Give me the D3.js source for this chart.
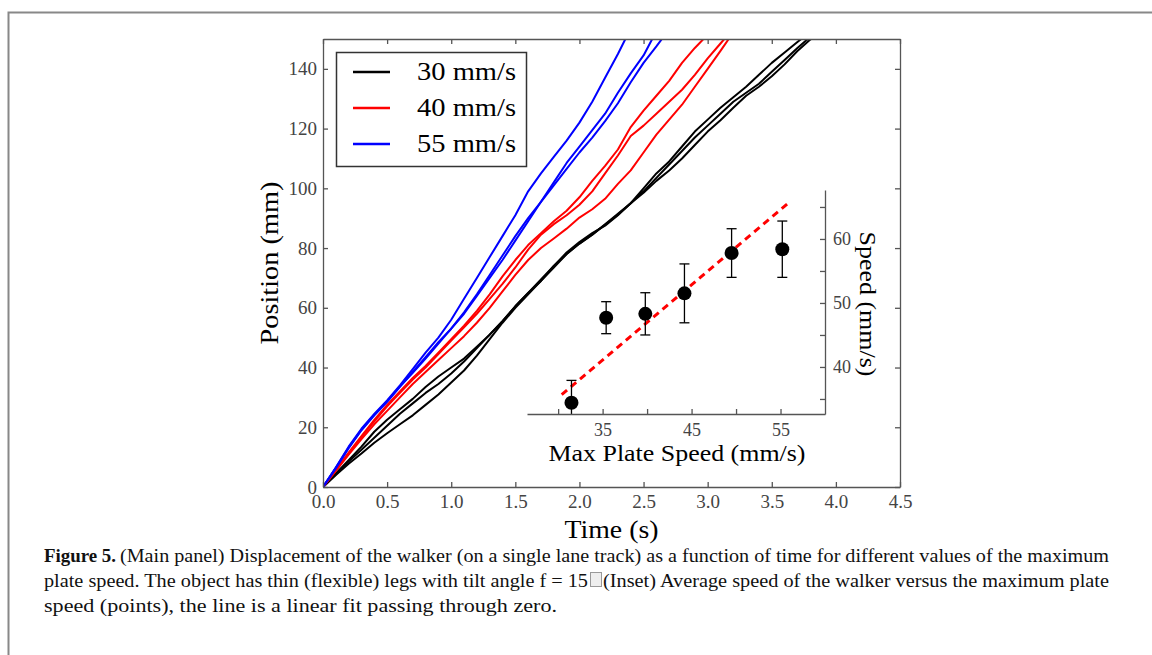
<!DOCTYPE html>
<html>
<head>
<meta charset="utf-8">
<script src="https://cdn.jsdelivr.net/npm/d3@7"></script>
<style>
  body { margin: 0; background: #fff; }
  .tick text { font-family: "Liberation Serif", serif; fill: #444; }
  .axis path, .axis line { stroke: #555; stroke-width: 1.3; }
</style>
</head>
<body>
<div id="chart"></div>
<script>
// position (mm) vs time (s), three runs per plate speed
var run30a = [[0,0],[0.1,4.5],[0.2,9],[0.3,13.5],[0.4,18.5],[0.5,22.5],[0.6,26],[0.7,29.5],[0.8,33.5],[0.9,37],[1.0,40],[1.1,43],[1.2,47],[1.3,51],[1.4,55.5],[1.5,60.5],[1.6,65],[1.7,69],[1.8,74],[1.9,78.5],[2.0,82],[2.1,85],[2.2,87.5],[2.3,91],[2.4,95],[2.5,100],[2.6,105],[2.7,109],[2.8,114],[2.9,119],[3.0,123],[3.1,127],[3.2,130.5],[3.3,134],[3.4,138],[3.5,142],[3.6,145.5],[3.7,149],[3.76,151]];
var run30b = [[0,0],[0.1,4.2],[0.2,8.5],[0.3,12.5],[0.4,16.5],[0.5,20.5],[0.6,24.5],[0.7,28],[0.8,31.5],[0.9,34.5],[1.0,38],[1.1,42],[1.2,46.5],[1.3,51],[1.4,55.5],[1.5,60.5],[1.6,65],[1.7,69.5],[1.8,74],[1.9,78],[2.0,81.5],[2.1,84.5],[2.2,88],[2.3,91.5],[2.4,95],[2.5,99],[2.6,103.5],[2.7,108],[2.8,112.5],[2.9,117],[3.0,121],[3.1,125],[3.2,129],[3.3,132],[3.4,135],[3.5,139],[3.6,143],[3.7,147],[3.8,150.7],[3.82,151.5]];
var run30c = [[0,0],[0.1,4],[0.2,7.8],[0.3,11.2],[0.4,14.8],[0.5,18],[0.6,21],[0.7,24],[0.8,27.5],[0.9,31],[1.0,35],[1.1,39],[1.2,44],[1.3,49.5],[1.4,55],[1.5,60],[1.6,64.5],[1.7,69],[1.8,73.5],[1.9,78],[2.0,81.5],[2.1,84.5],[2.2,87.8],[2.3,91.2],[2.4,95],[2.5,98.5],[2.6,102.5],[2.7,106],[2.8,110],[2.9,114.5],[3.0,119],[3.1,122.8],[3.2,127],[3.3,131],[3.4,134],[3.5,137.5],[3.6,141.5],[3.7,146],[3.8,149.8],[3.85,151.5]];
var run40a = [[0,0],[0.1,5.8],[0.2,11.5],[0.3,17],[0.4,22.5],[0.5,27.5],[0.6,32],[0.7,36.5],[0.8,40.5],[0.9,45],[1.0,49.5],[1.1,54],[1.2,59],[1.3,64.5],[1.4,70.5],[1.5,76],[1.6,81],[1.7,85],[1.8,89],[1.9,92.5],[2.0,97],[2.1,102.5],[2.2,107.5],[2.3,113],[2.4,120.5],[2.5,126],[2.6,131],[2.7,136],[2.8,142],[2.9,147],[2.99,151]];
var run40b = [[0,0],[0.1,5.6],[0.2,11.2],[0.3,16.7],[0.4,22],[0.5,27],[0.6,31.5],[0.7,36],[0.8,40],[0.9,44.5],[1.0,49],[1.1,53.5],[1.2,58],[1.3,63],[1.4,68],[1.5,73.5],[1.6,79.5],[1.7,84.5],[1.8,88],[1.9,91],[2.0,94.5],[2.1,99],[2.2,105],[2.3,111],[2.4,117.5],[2.5,121],[2.6,125],[2.7,129],[2.8,133],[2.9,138],[3.0,143.5],[3.1,148.5],[3.15,151]];
var run40c = [[0,0],[0.1,5.4],[0.2,10.8],[0.3,16],[0.4,21],[0.5,25.5],[0.6,30],[0.7,34.5],[0.8,38.5],[0.9,42.5],[1.0,46.5],[1.1,50.5],[1.2,55],[1.3,60],[1.4,65.5],[1.5,71],[1.6,76],[1.7,80],[1.8,83.2],[1.9,86.5],[2.0,90.2],[2.1,93],[2.2,96.5],[2.3,101.5],[2.4,106],[2.5,112],[2.6,118],[2.7,123],[2.8,128],[2.9,134],[3.0,140],[3.1,146],[3.18,151]];
var run55a = [[0,0],[0.1,6.5],[0.2,13.5],[0.3,19.5],[0.4,24.5],[0.5,29],[0.6,34],[0.7,39.5],[0.8,45],[0.9,50],[1.0,56],[1.1,63],[1.2,70],[1.3,77],[1.4,84],[1.5,91],[1.6,99],[1.7,105],[1.8,110.5],[1.9,116],[2.0,122],[2.1,129],[2.2,137],[2.3,145],[2.37,151]];
var run55b = [[0,0],[0.1,6.3],[0.2,13],[0.3,19],[0.4,24],[0.5,28.5],[0.6,33.5],[0.7,38.5],[0.8,43.5],[0.9,48.5],[1.0,53],[1.1,58],[1.2,64],[1.3,70],[1.4,76],[1.5,82.5],[1.6,89],[1.7,95.5],[1.8,102],[1.9,108.5],[2.0,114],[2.1,119.5],[2.2,125],[2.3,132],[2.4,138.5],[2.5,144.5],[2.58,151]];
var run55c = [[0,0],[0.1,6.4],[0.2,13.2],[0.3,19.2],[0.4,24.2],[0.5,28.7],[0.6,33.7],[0.7,38.2],[0.8,43],[0.9,48],[1.0,53],[1.1,58.5],[1.2,64.5],[1.3,71],[1.4,77.5],[1.5,84],[1.6,90],[1.7,95.5],[1.8,101],[1.9,106.5],[2.0,112],[2.1,117],[2.2,122.5],[2.3,128.5],[2.4,135.5],[2.5,142],[2.6,147.5],[2.66,151]];

var legendLabels = ["30 mm/s", "40 mm/s", "55 mm/s"];
var runColors = ["#000000", "#ff0000", "#0000ff"];
var timeTicks = [0, 0.5, 1, 1.5, 2, 2.5, 3, 3.5, 4, 4.5];
var posTicks = [0, 20, 40, 60, 80, 100, 120, 140];

// inset: mean speed vs max plate speed
var plateSpeed = [31.5, 35.4, 39.8, 44.2, 49.5, 55.2];
var meanSpeed = [34.4, 47.7, 48.3, 51.5, 57.8, 58.4];
var speedErr = [3.5, 2.5, 3.3, 4.6, 3.8, 4.4];
var fitSlope = 1.174;
var fitRange = [30.4, 56];
var insetXTicks = [30, 35, 40, 45, 50, 55];
var insetYTicks = [35, 40, 45, 50, 55, 60, 65];

var W = 1152, H = 655;
var svg = d3.select("#chart").append("svg")
    .attr("width", W).attr("height", H);

// page frame
svg.append("rect")
    .attr("x", 8.5).attr("y", 12.5)
    .attr("width", 1200).attr("height", 700)
    .attr("fill", "none").attr("stroke", "#888").attr("stroke-width", 2);

// main panel
var mLeft = 323, mRight = 900, mTop = 39, mBottom = 487;
var x = d3.scaleLinear().domain([0, 4.5]).range([mLeft, mRight]);
var y = d3.scaleLinear().domain([0, 150]).range([mBottom, mTop]);

svg.append("clipPath").attr("id", "mainclip")
    .append("rect").attr("x", mLeft).attr("y", mTop)
    .attr("width", mRight - mLeft).attr("height", mBottom - mTop);

var line = d3.line().x(d => x(d[0])).y(d => y(d[1]));
var groups = [[run30a, run30b, run30c], [run40a, run40b, run40c], [run55a, run55b, run55c]];
var curves = svg.append("g").attr("clip-path", "url(#mainclip)");
groups.forEach(function (runs, i) {
    runs.forEach(function (r) {
        curves.append("path")
            .datum(r)
            .attr("d", line)
            .attr("fill", "none")
            .attr("stroke", runColors[i])
            .attr("stroke-width", 2)
            .attr("stroke-linejoin", "round");
    });
});

// axes, ticks pointing inward
svg.append("g").attr("class", "axis")
    .attr("transform", "translate(0," + mBottom + ")")
    .call(d3.axisBottom(x).tickValues(timeTicks).tickFormat(d3.format(".1f")).tickSize(-5).tickSizeOuter(0).tickPadding(8))
    .selectAll("text").style("font-size", "19px");
svg.append("g").attr("class", "axis")
    .attr("transform", "translate(0," + mTop + ")")
    .call(d3.axisTop(x).tickValues(timeTicks).tickFormat("").tickSize(-5).tickSizeOuter(0));
svg.append("g").attr("class", "axis")
    .attr("transform", "translate(" + mLeft + ",0)")
    .call(d3.axisLeft(y).tickValues(posTicks).tickFormat(d3.format("d")).tickSize(-5).tickSizeOuter(0).tickPadding(6))
    .selectAll("text").style("font-size", "19px");
svg.append("g").attr("class", "axis")
    .attr("transform", "translate(" + mRight + ",0)")
    .call(d3.axisRight(y).tickValues(posTicks).tickFormat("").tickSize(-5).tickSizeOuter(0));

// axis titles
svg.append("text")
    .attr("x", (mLeft + mRight) / 2).attr("y", 538)
    .attr("text-anchor", "middle")
    .attr("textLength", 94).attr("lengthAdjust", "spacingAndGlyphs")
    .style("font-family", "Liberation Serif, serif").style("font-size", "26px")
    .text("Time (s)");
svg.append("text")
    .attr("transform", "translate(278,263) rotate(-90)")
    .attr("text-anchor", "middle")
    .attr("textLength", 163).attr("lengthAdjust", "spacingAndGlyphs")
    .style("font-family", "Liberation Serif, serif").style("font-size", "26px")
    .text("Position (mm)");

// legend
var legend = svg.append("g");
legend.append("rect")
    .attr("x", 336.5).attr("y", 52.5).attr("width", 190).attr("height", 114)
    .attr("fill", "#fff").attr("stroke", "#333").attr("stroke-width", 1.5);
legendLabels.forEach(function (lab, i) {
    var ly = 72 + i * 36;
    legend.append("line")
        .attr("x1", 353).attr("x2", 390).attr("y1", ly).attr("y2", ly)
        .attr("stroke", runColors[i]).attr("stroke-width", 2.5);
    legend.append("text")
        .attr("x", 417).attr("y", ly + 8)
        .attr("textLength", 99).attr("lengthAdjust", "spacingAndGlyphs")
        .style("font-family", "Liberation Serif, serif").style("font-size", "25px")
        .text(lab);
});

// inset
var iLeft = 527, iRight = 825, iTop = 190, iBottom = 414;
var ix = d3.scaleLinear().domain([26.5, 60]).range([iLeft, iRight]);
var iy = d3.scaleLinear().domain([32.65, 67.65]).range([iBottom, iTop]);

svg.append("clipPath").attr("id", "insetclip")
    .append("rect").attr("x", iLeft).attr("y", iTop)
    .attr("width", iRight - iLeft).attr("height", iBottom - iTop);

var inset = svg.append("g").attr("clip-path", "url(#insetclip)");

inset.append("line")
    .attr("x1", ix(fitRange[0])).attr("y1", iy(fitSlope * fitRange[0]))
    .attr("x2", ix(fitRange[1])).attr("y2", iy(fitSlope * fitRange[1]))
    .attr("stroke", "#ff0000").attr("stroke-width", 3)
    .attr("stroke-dasharray", "7,5");

var pts = plateSpeed.map((v, i) => ({ v: v, s: meanSpeed[i], e: speedErr[i] }));
inset.selectAll(".err").data(pts).enter().append("line")
    .attr("x1", d => ix(d.v)).attr("x2", d => ix(d.v))
    .attr("y1", d => iy(d.s - d.e)).attr("y2", d => iy(d.s + d.e))
    .attr("stroke", "#000").attr("stroke-width", 1.3);
[-1, 1].forEach(function (sgn) {
    inset.selectAll(null).data(pts).enter().append("line")
        .attr("x1", d => ix(d.v) - 5).attr("x2", d => ix(d.v) + 5)
        .attr("y1", d => iy(d.s + sgn * d.e))
        .attr("y2", d => iy(d.s + sgn * d.e))
        .attr("stroke", "#000").attr("stroke-width", 1.3);
});
inset.selectAll(".pt").data(pts).enter().append("circle")
    .attr("cx", d => ix(d.v)).attr("cy", d => iy(d.s))
    .attr("r", 7).attr("fill", "#000");

svg.append("g").attr("class", "axis")
    .attr("transform", "translate(0," + iBottom + ")")
    .call(d3.axisBottom(ix).tickValues(insetXTicks).tickFormat(d => d % 10 === 5 ? d : "").tickSize(-5).tickSizeOuter(0).tickPadding(9))
    .selectAll("text").style("font-size", "18px");
svg.append("g").attr("class", "axis")
    .attr("transform", "translate(" + iRight + ",0)")
    .call(d3.axisRight(iy).tickValues(insetYTicks).tickFormat(d => d % 10 === 0 ? d : "").tickSize(-5).tickSizeOuter(0).tickPadding(8))
    .selectAll("text").style("font-size", "18px");

svg.append("text")
    .attr("x", 677).attr("y", 461)
    .attr("text-anchor", "middle")
    .attr("textLength", 257).attr("lengthAdjust", "spacingAndGlyphs")
    .style("font-family", "Liberation Serif, serif").style("font-size", "23px")
    .text("Max Plate Speed (mm/s)");
svg.append("text")
    .attr("transform", "translate(860,304) rotate(90)")
    .attr("text-anchor", "middle")
    .attr("textLength", 145).attr("lengthAdjust", "spacingAndGlyphs")
    .style("font-family", "Liberation Serif, serif").style("font-size", "23px")
    .text("Speed (mm/s)");

// caption
var cap = svg.append("g")
    .style("font-family", "Liberation Serif, serif").style("font-size", "18px").attr("fill", "#111");
cap.append("text").attr("x", 44).attr("y", 562)
    .attr("textLength", 72).attr("lengthAdjust", "spacingAndGlyphs")
    .style("font-weight", "bold").text("Figure 5.");
cap.append("text").attr("x", 120).attr("y", 562)
    .attr("textLength", 989).attr("lengthAdjust", "spacingAndGlyphs")
    .text("(Main panel) Displacement of the walker (on a single lane track) as a function of time for different values of the maximum");
cap.append("text").attr("x", 44).attr("y", 587)
    .attr("textLength", 544).attr("lengthAdjust", "spacingAndGlyphs")
    .text("plate speed. The object has thin (flexible) legs with tilt angle f  =  15");
cap.append("rect").attr("x", 590.5).attr("y", 572.5).attr("width", 11).attr("height", 14)
    .attr("fill", "#eee").attr("stroke", "#999");
cap.append("text").attr("x", 603).attr("y", 587)
    .attr("textLength", 506).attr("lengthAdjust", "spacingAndGlyphs")
    .text("(Inset) Average speed of the walker versus the maximum plate");
cap.append("text").attr("x", 44).attr("y", 612)
    .attr("textLength", 513).attr("lengthAdjust", "spacingAndGlyphs")
    .text("speed (points), the line is a linear fit passing through zero.");
</script>
</body>
</html>
